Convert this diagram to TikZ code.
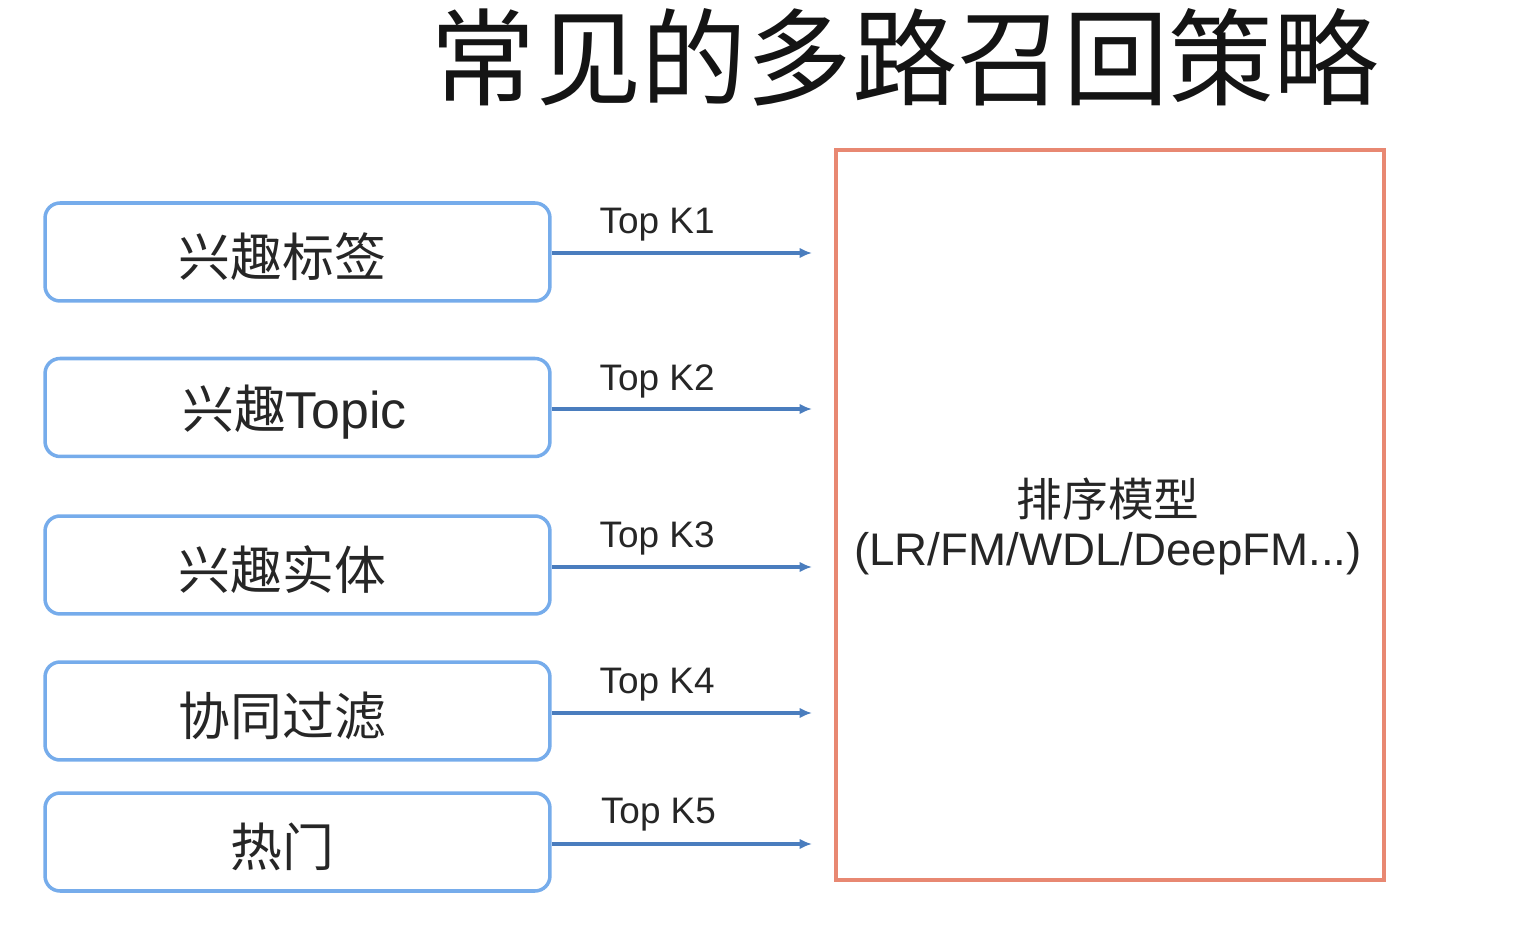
\documentclass[tikz,border=0pt]{standalone}
\usepackage{fontspec}
\setmainfont{Liberation Sans}
\newfontfamily\cjk{Noto Sans CJK SC}
\usetikzlibrary{arrows.meta}
\definecolor{boxblue}{RGB}{118,172,235}
\definecolor{arrowblue}{RGB}{74,125,190}
\definecolor{salmon}{RGB}{232,136,114}
\begin{document}
\begin{tikzpicture}[x=0.02cm,y=-0.02cm,
  srcbox/.style={draw=boxblue, line width=2pt, rounded corners=0.3cm,
    minimum width=10.1cm, minimum height=1.96cm, inner sep=0pt},
  boxtext/.style={font=\fontsize{29.5}{32}\selectfont, text=black!85},
  flow/.style={draw=arrowblue, line width=2pt, -{Latex[length=7pt,width=6pt]}},
  toplab/.style={font=\fontsize{21}{24}\selectfont, text=black!85, inner sep=0pt},
  ranktext/.style={font=\fontsize{26}{31}\selectfont, text=black!85},
  rankbox/.style={draw=salmon, line width=1.8pt, minimum width=10.96cm,
    minimum height=14.6cm, inner sep=0pt}]
\useasboundingbox (0,0) rectangle (1514,928);
\node[font=\cjk\fontsize{60}{64}\selectfont, text=black!92] (title) at (905,57) {常见的多路召回策略};
\node[rankbox] (rank) at (1110,515) {};
\node[ranktext] (ranka) at (1108,499) {\cjk 排序模型};
\node[ranktext] (rankb) at (1108,554) {(LR/FM/WDL/DeepFM...)};
\node[srcbox, label={[boxtext, xshift=-0.3cm, yshift=-0.1cm]center:{\cjk 兴趣标签}}] (b1) at (297.5,252) {};
\node[srcbox, label={[boxtext, xshift=-0.06cm, yshift=-0.1cm]center:{\cjk 兴趣}Topic}] (b2) at (297.5,407.5) {};
\node[srcbox, label={[boxtext, xshift=-0.3cm, yshift=-0.1cm]center:{\cjk 兴趣实体}}] (b3) at (297.5,565) {};
\node[srcbox, label={[boxtext, xshift=-0.3cm, yshift=-0.1cm]center:{\cjk 协同过滤}}] (b4) at (297.5,711) {};
\node[srcbox, label={[boxtext, xshift=-0.3cm, yshift=-0.1cm]center:{\cjk 热门}}] (b5) at (297.5,842) {};
\coordinate (e1) at (812,253);
\coordinate (e2) at (812,409);
\coordinate (e3) at (812,567);
\coordinate (e4) at (812,713);
\coordinate (e5) at (812,844);
\draw[flow] (b1.east |- e1) -- (e1) node[toplab, pos=0.405, yshift=0.56cm] {Top K1};
\draw[flow] (b2.east |- e2) -- (e2) node[toplab, pos=0.405, yshift=0.56cm] {Top K2};
\draw[flow] (b3.east |- e3) -- (e3) node[toplab, pos=0.405, yshift=0.58cm] {Top K3};
\draw[flow] (b4.east |- e4) -- (e4) node[toplab, pos=0.405, yshift=0.56cm] {Top K4};
\draw[flow] (b5.east |- e5) -- (e5) node[toplab, pos=0.41, yshift=0.58cm] {Top K5};
\end{tikzpicture}
\end{document}
